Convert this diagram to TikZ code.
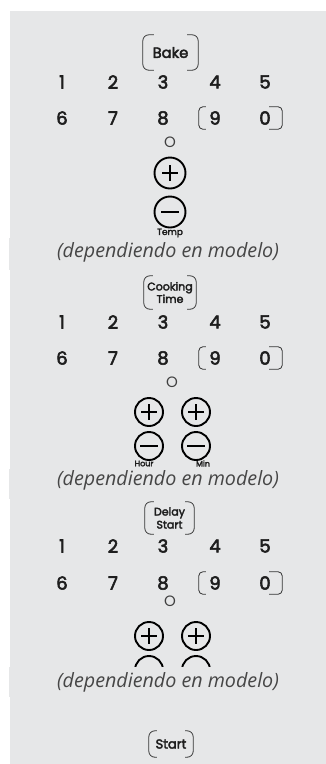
\documentclass[tikz,border=0pt]{standalone}
\usepackage{fontspec}
\setmainfont{Poppins}
\newfontfamily\digfont[FakeBold=3]{Poppins}
\newfontfamily\depfont{Open Sans}
\usetikzlibrary{calc}
\definecolor{panel}{RGB}{230,231,232}
\definecolor{ink}{RGB}{30,30,30}
\definecolor{deptext}{RGB}{70,70,70}
\tikzset{
  btnline/.style={draw=ink!90, line width=0.8pt, rounded corners=6pt},
  keybox/.style={inner sep=0pt, align=center, text=ink},
  digit/.style={inner sep=0pt, text=ink, font=\digfont\fontsize{18}{18}\selectfont},
  ozero/.style={inner sep=0pt, text=ink!85, font=\fontsize{15}{15}\selectfont},
  pmcircle/.style={draw=black, line width=1.9pt, circle, inner sep=0pt},
  pmbar/.style={draw=black, line width=1.9pt},
  smalllbl/.style={inner sep=0pt, text=ink, font=\digfont\fontsize{8}{8}\selectfont},
  deplbl/.style={inner sep=0pt, text=deptext, font=\depfont\itshape\fontsize{19.7}{19.7}\selectfont},
  band/.style={fill=panel, draw=none}
}
\newcommand\bracketbox[2]{%
  \draw[btnline] ($(#1.north west)+(#2,0)$) -- (#1.north west) -- (#1.south west) -- ($(#1.south west)+(#2,0)$);
  \draw[btnline] ($(#1.north east)+(-#2,0)$) -- (#1.north east) -- (#1.south east) -- ($(#1.south east)+(-#2,0)$);}
\newcommand\plusbtn[3]{% name, center, diameter
  \node[pmcircle, minimum size=#3] (#1) at #2 {};
  \draw[pmbar] ($(#1.center)+(-8,0)$) -- ($(#1.center)+(8,0)$);
  \draw[pmbar] ($(#1.center)+(0,-8)$) -- ($(#1.center)+(0,8)$);}
\newcommand\minusbtn[3]{%
  \node[pmcircle, minimum size=#3] (#1) at #2 {};
  \draw[pmbar] ($(#1.center)+(-9,0)$) -- ($(#1.center)+(9,0)$);}
\newcommand\digitrows[3]{% prefix, row1 y, row2 y
  \foreach \d/\x in {1/62,2/113,3/163,4/215,5/265}{\node[digit] (#1r1d\d) at (\x,#2) {\d};}
  \foreach \d/\x in {6/62,7/113,8/163,9/215,0/265}{\node[digit] (#1r2d\d) at (\x,#3) {\d};}
  \node[inner sep=0pt, minimum width=83, minimum height=22] (#1brk) at (240.5,#3) {};
  \draw[btnline, rounded corners=4pt] ($(#1brk.north west)+(7,0)$) -- (#1brk.north west) -- (#1brk.south west) -- ($(#1brk.south west)+(7,0)$);
  \draw[btnline, rounded corners=4pt] ($(#1brk.north east)+(-13,0)$) -- (#1brk.north east) -- (#1brk.south east) -- ($(#1brk.south east)+(-13,0)$);}
\begin{document}
\begin{tikzpicture}[x=1pt,y=-1pt]
\useasboundingbox (0,0) rectangle (326,764);
\fill[white] (0,0) rectangle (326,764);
\fill[panel] (10,11) rectangle (326,764);

% ---------- Section 1: Bake ----------
\node[keybox, minimum width=55, minimum height=35, font=\digfont\fontsize{14.7}{14.7}\selectfont] (bake) at (170.5,52.5) {Bake};
\bracketbox{bake}{11}
\digitrows{a}{82}{118}
\node[ozero] (ao) at (170,142) {O};
\plusbtn{aplus}{(170,173)}{31}
\minusbtn{aminus}{(170,212)}{31}
\node[smalllbl, font=\digfont\fontsize{9}{9}\selectfont] (atemp) at (170,233) {Temp};
\fill[band] (9.3,238) rectangle (326,270);
\node[deplbl] (adep) at (168,252) {(dependiendo en modelo)};

% ---------- Section 2: Cooking Time ----------
\node[keybox, minimum width=52, minimum height=33, font=\digfont\fontsize{11}{12.5}\selectfont] (cook) at (170,292.5) {Cooking\\Time};
\bracketbox{cook}{9}
\digitrows{b}{322}{358}
\node[ozero] (bo) at (172,382) {O};
\plusbtn{bplusl}{(149,412)}{28}
\plusbtn{bplusr}{(196,412)}{28}
\minusbtn{bminusl}{(149,446)}{28}
\minusbtn{bminusr}{(196,446)}{28}
\node[smalllbl] (bhour) at (144,463.5) {Hour};
\node[smalllbl] (bmin) at (203,463.5) {Min};
\fill[band] (9.3,469) rectangle (326,499);
\node[deplbl] (bdep) at (168,480) {(dependiendo en modelo)};

% ---------- Section 3: Delay Start ----------
\node[keybox, minimum width=49, minimum height=32, font=\digfont\fontsize{11}{13}\selectfont] (delay) at (169.5,518) {Delay\\Start};
\bracketbox{delay}{9}
\digitrows{c}{546}{583}
\node[ozero] (co) at (170,601) {O};
\plusbtn{cplusl}{(149,636)}{28}
\plusbtn{cplusr}{(196,636)}{28}
\minusbtn{cminusl}{(149,670)}{28}
\minusbtn{cminusr}{(196,670)}{28}
\fill[band] (9.3,667) rectangle (326,697);
\node[deplbl] (cdep) at (168,682) {(dependiendo en modelo)};

% ---------- Start ----------
\node[keybox, minimum width=44, minimum height=26, font=\digfont\fontsize{13}{13}\selectfont] (start) at (171,744) {Start};
\bracketbox{start}{8}
\end{tikzpicture}
\end{document}
